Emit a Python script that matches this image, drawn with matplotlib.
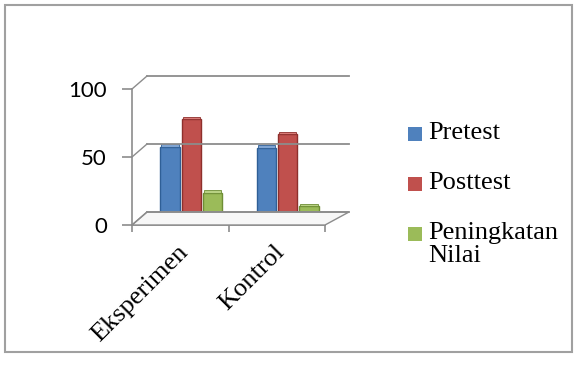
import matplotlib
matplotlib.use("Agg")
import matplotlib.pyplot as plt
import matplotlib.transforms as mtransforms
from matplotlib.lines import Line2D
from matplotlib.patches import Polygon, Rectangle
import numpy as np

categories = ["Eksperimen", "Kontrol"]
series_names = ["Pretest", "Posttest", "Peningkatan\nNilai"]
pretest = [54, 53]
posttest = [74, 63]
peningkatan = [20, 10]
y_ticks = [0, 50, 100]

colors = ["#4F81BD", "#C0504D", "#9BBB59"]
edges = ["#2F5F96", "#8E2F2C", "#6E8E35"]
caps = ["#7FA4D3", "#D97A77", "#B8D183"]

W, H = 581, 387
fig = plt.figure(figsize=(W / 100, H / 100), dpi=100)

def fx(x):
    return x / W

def fy(y):
    return 1 - y / H

# plot area of the front face
ax = fig.add_axes([fx(132), fy(225), fx(325) - fx(132), fy(89) - fy(225)])
ax.set_xlim(-0.5, 1.5)
ax.set_ylim(0, 100)
ax.patch.set_visible(False)

grid_col = "#8C8C8C"
back = ax.transData + mtransforms.ScaledTranslation(0.15, 0.13, fig.dpi_scale_trans)
mid = ax.transData + mtransforms.ScaledTranslation(0.11, 0.05, fig.dpi_scale_trans)
ident = mtransforms.IdentityTransform()

# floor of the box
fig.canvas.draw()
f0 = ax.transData.transform((-0.5, 0))
f1 = ax.transData.transform((1.5, 0))
b0 = back.transform((-0.5, 0))
b1 = back.transform((1.5, 0))
floor = Polygon([f0, f1, b1 + [9, 0], b0], closed=True, facecolor="#F7F7F7",
                edgecolor=grid_col, lw=1.0, transform=ident, zorder=0.5)
fig.patches.append(floor)

# back wall gridlines and the slanted joins to the value axis
for v in y_ticks:
    p0 = back.transform((-0.5, v))
    p1 = back.transform((1.5, v)) + [9, 0]
    fig.lines.append(Line2D([p0[0], p1[0]], [p0[1], p1[1]], color=grid_col,
                            lw=1.3, transform=ident, zorder=0.6))
    q = ax.transData.transform((-0.5, v))
    fig.lines.append(Line2D([q[0], p0[0]], [q[1], p0[1]], color=grid_col,
                            lw=1.0, transform=ident, zorder=0.6))

# clustered 3D-look columns
x = np.arange(len(categories))
width = 0.2
step = 0.22
for i, (vals, c, e, cp) in enumerate(zip([pretest, posttest, peningkatan],
                                          colors, edges, caps)):
    xs = x + (i - 1) * step
    ax.bar(xs, vals, width=width, color=c, edgecolor=e, lw=1.0,
           transform=mid, clip_on=False, zorder=2 + i)
    ax.bar(xs, [1.8] * len(vals), bottom=vals, width=width * 0.9, color=cp,
           edgecolor=e, lw=0.6, transform=mid, clip_on=False, zorder=2 + i)

# axes lines and ticks
for s in ["top", "right"]:
    ax.spines[s].set_visible(False)
for s in ["left", "bottom"]:
    ax.spines[s].set_color(grid_col)
    ax.spines[s].set_linewidth(1.2)
ax.set_yticks(y_ticks)
ax.set_yticklabels([str(v) for v in y_ticks], fontsize=16, family="Lato")
ax.tick_params(axis="y", length=7, width=1.2, color=grid_col, pad=11)
ax.set_xticks([-0.5, 0.5, 1.5])
ax.set_xticklabels([])
ax.tick_params(axis="x", length=5, width=1.2, color=grid_col)

label_off = ax.transData + mtransforms.ScaledTranslation(-0.03, -0.16, fig.dpi_scale_trans)
for xi, name in zip(x, categories):
    ax.text(xi, 0, name, rotation=45, ha="right", va="top", rotation_mode="anchor",
            fontsize=19, family="Liberation Serif", transform=label_off)

# legend on the right
leg_y = [134, 184, 234]
for yy, name, c in zip(leg_y, series_names, colors):
    fig.patches.append(Rectangle((fx(408), fy(yy + 7)), fx(14), 14 / H,
                                 facecolor=c, edgecolor="none",
                                 transform=fig.transFigure))
    fig.text(fx(428), fy(yy - 12), name, ha="left", va="top", fontsize=19,
             family="Liberation Serif", linespacing=1.05)

# chart border
fig.patches.append(Rectangle((fx(5), fy(352)), fx(572) - fx(5), fy(5) - fy(352),
                             fill=False, edgecolor="#A0A0A0", lw=1.5,
                             transform=fig.transFigure))

fig.savefig("out.png", dpi=100)
